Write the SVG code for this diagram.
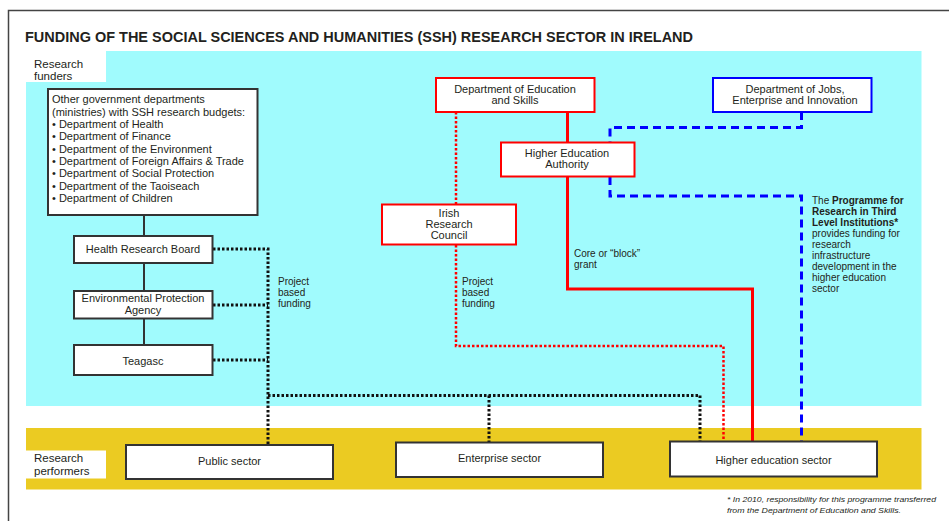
<svg xmlns="http://www.w3.org/2000/svg" width="949" height="521" viewBox="0 0 949 521">
<style>
text{font-family:"Liberation Sans",Arial,sans-serif;fill:#231f20;}
.t{font-size:11px;}
.s{font-size:10px;}
.c{text-anchor:middle;}
.bk{fill:#fff;stroke:#333;stroke-width:2;}
.rd{fill:#fff;stroke:#f00;stroke-width:2;}
.bl{fill:#fff;stroke:#00f;stroke-width:2;}
.gl{fill:none;stroke:#333;stroke-width:2;}
.dk{fill:none;stroke:#111;stroke-width:3;stroke-dasharray:2.5 2;}
.dr{fill:none;stroke:#f00;stroke-width:2.5;stroke-dasharray:2.5 2;}
.sr{fill:none;stroke:#f00;stroke-width:3;}
.db{fill:none;stroke:#00f;stroke-width:3;stroke-dasharray:8 5;}
</style>
<rect width="949" height="521" fill="#fff"/>
<path d="M8.5 521V10.5H949" fill="none" stroke="#444" stroke-width="1.5"/>
<text x="25" y="42" font-size="15.5" font-weight="bold" textLength="668" lengthAdjust="spacingAndGlyphs">FUNDING OF THE SOCIAL SCIENCES AND HUMANITIES (SSH) RESEARCH SECTOR IN IRELAND</text>
<rect x="26" y="51" width="895.5" height="355" fill="#a0fbfd"/>
<rect x="26" y="428" width="895.5" height="61.5" fill="#ebcb22"/>
<g id="label-funders">
<rect x="26" y="51" width="80" height="31" fill="#fff"/>
<text x="34" y="67.5" font-size="11.5">Research</text>
<text x="34" y="80" font-size="11.5">funders</text>
</g>
<g id="label-performers">
<rect x="26" y="450.5" width="80" height="28" fill="#fff"/>
<text x="34" y="461.5" font-size="11.5">Research</text>
<text x="34" y="474.5" font-size="11.5">performers</text>
</g>
<g id="connectors">
<path class="gl" d="M144 215V236M144 263V291M144 319V345"/>
<path class="dk" d="M213 249H268V445M213 305H268M213 360H268M268 395.5H700V441M489 395.5V442"/>
<path class="sr" d="M567.5 112V142M567.5 177V289H752.5V441"/>
<path class="dr" d="M456 112V204M456 245V346H723.5V441"/>
<path class="db" d="M801.5 112V127.5H610V142M610 177V196H801.5V441"/>
</g>
<g id="other-departments">
<rect class="bk" x="48" y="89" width="209.5" height="126"/>
<text class="t" x="52" y="103">Other government departments</text>
<text class="t" x="52" y="115.5">(ministries) with SSH research budgets:</text>
<text class="t" x="52" y="128">• Department of Health</text>
<text class="t" x="52" y="140">• Department of Finance</text>
<text class="t" x="52" y="152.5">• Department of the Environment</text>
<text class="t" x="52" y="165">• Department of Foreign Affairs &amp; Trade</text>
<text class="t" x="52" y="177">• Department of Social Protection</text>
<text class="t" x="52" y="189.5">• Department of the Taoiseach</text>
<text class="t" x="52" y="202">• Department of Children</text>
</g>
<g id="hrb">
<rect class="bk" x="74" y="236" width="138.5" height="27"/>
<text class="t c" x="143" y="253">Health Research Board</text>
</g>
<g id="epa">
<rect class="bk" x="74" y="291" width="138.5" height="27.5"/>
<text class="t c" x="143" y="302">Environmental Protection</text>
<text class="t c" x="143" y="313.5">Agency</text>
</g>
<g id="teagasc">
<rect class="bk" x="74" y="345" width="138.5" height="30"/>
<text class="t c" x="143" y="364.5" font-size="12">Teagasc</text>
</g>
<g id="des">
<rect class="rd" x="436" y="78" width="158.5" height="34"/>
<text class="t c" x="515" y="93">Department of Education</text>
<text class="t c" x="515" y="104">and Skills</text>
</g>
<g id="hea">
<rect class="rd" x="501" y="142.5" width="133.5" height="34"/>
<text class="t c" x="567" y="157">Higher Education</text>
<text class="t c" x="567" y="168">Authority</text>
</g>
<g id="irc">
<rect class="rd" x="382" y="204.5" width="134" height="40"/>
<text class="t c" x="449" y="217">Irish</text>
<text class="t c" x="449" y="228">Research</text>
<text class="t c" x="449" y="239">Council</text>
</g>
<g id="djei">
<rect class="bl" x="713" y="78" width="158.5" height="34"/>
<text class="t c" x="795" y="93">Department of Jobs,</text>
<text class="t c" x="795" y="104">Enterprise and Innovation</text>
</g>
<g id="public">
<rect class="bk" x="126" y="445" width="207" height="34"/>
<text class="t c" x="229.5" y="464.5">Public sector</text>
</g>
<g id="enterprise">
<rect class="bk" x="396" y="442.5" width="207" height="34.5"/>
<text class="t c" x="499.5" y="462">Enterprise sector</text>
</g>
<g id="higher-ed">
<rect class="bk" x="670" y="441.5" width="207" height="35"/>
<text class="t c" x="773.5" y="464">Higher education sector</text>
</g>
<g id="labels">
<text class="s" x="278" y="285">Project</text>
<text class="s" x="278" y="296">based</text>
<text class="s" x="278" y="307">funding</text>
<text class="s" x="462" y="285">Project</text>
<text class="s" x="462" y="296">based</text>
<text class="s" x="462" y="307">funding</text>
<text class="s" x="574" y="256.5">Core or “block”</text>
<text class="s" x="574" y="268">grant</text>
<text class="s" x="812" y="204">The <tspan font-weight="bold">Programme for</tspan></text>
<text class="s" x="812" y="215" font-weight="bold">Research in Third</text>
<text class="s" x="812" y="226"><tspan font-weight="bold">Level Institutions*</tspan></text>
<text class="s" x="812" y="237">provides funding for</text>
<text class="s" x="812" y="248">research</text>
<text class="s" x="812" y="259">infrastructure</text>
<text class="s" x="812" y="270">development in the</text>
<text class="s" x="812" y="281">higher education</text>
<text class="s" x="812" y="292">sector</text>
<text x="727" y="501.5" font-size="8" font-style="italic" textLength="209" lengthAdjust="spacingAndGlyphs">* In 2010, responsibility for this programme transferred</text>
<text x="727" y="513" font-size="8" font-style="italic" textLength="174" lengthAdjust="spacingAndGlyphs">from the Department of Education and Skills.</text>
</g>
</svg>
